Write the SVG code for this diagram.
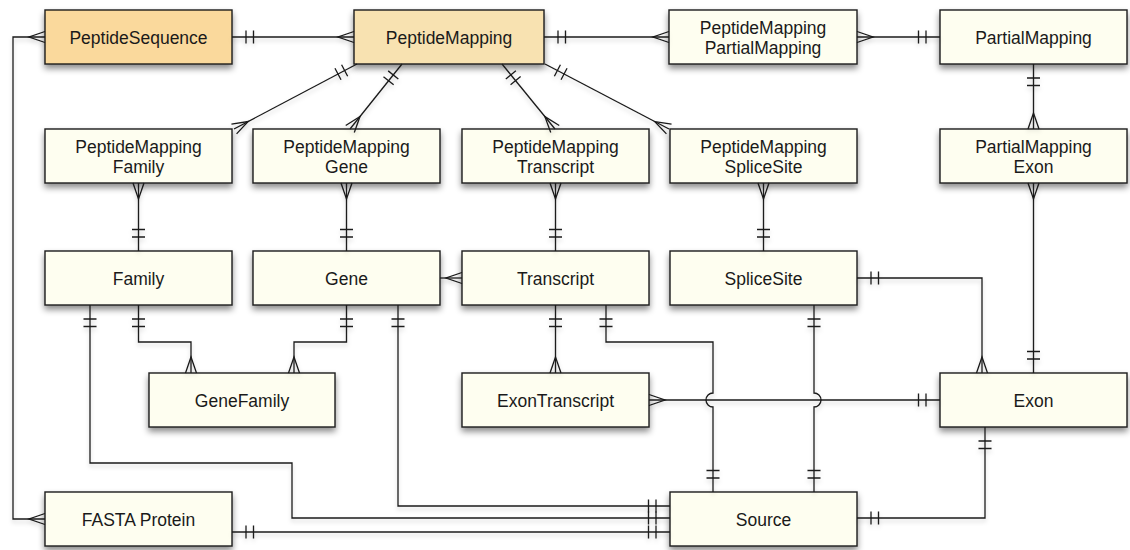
<svg xmlns="http://www.w3.org/2000/svg" width="1130" height="550" viewBox="0 0 1130 550">
<style>
.box{stroke:#1c1c1c;stroke-width:1.4;filter:url(#sh)}
.cream{fill:#fefef0}
.orange{fill:#fad99c}
.peach{fill:#f8e2b1}
text{font-family:"Liberation Sans",Arial,Helvetica,sans-serif;font-size:17.5px;fill:#1a1a1a;text-anchor:middle}
.c path{fill:none;stroke:#1a1a1a;stroke-width:1.3}
.o{marker-start:url(#one)}
.oe{marker-end:url(#one)}
.m{marker-start:url(#many)}
.me{marker-end:url(#many)}
</style>
<defs>
<filter id="sh" x="-10%" y="-20%" width="120%" height="160%">
<feDropShadow dx="0" dy="4" stdDeviation="3" flood-color="#000" flood-opacity="0.45"/>
</filter>
<filter id="lsh" x="-5%" y="-5%" width="110%" height="110%">
<feDropShadow dx="0" dy="3" stdDeviation="2" flood-color="#000" flood-opacity="0.18"/>
</filter>
<marker id="one" markerUnits="userSpaceOnUse" viewBox="-30 -10 32 20" markerWidth="32" markerHeight="20" refX="0" refY="0" orient="auto-start-reverse">
<path d="M-14,-6.5V6.5M-21.5,-6.5V6.5" fill="none" stroke="#1a1a1a" stroke-width="1.3"/>
</marker>
<marker id="many" markerUnits="userSpaceOnUse" viewBox="-30 -10 32 20" markerWidth="32" markerHeight="20" refX="0" refY="0" orient="auto-start-reverse">
<path d="M0,-5.5L-16,0L0,5.5" fill="none" stroke="#1a1a1a" stroke-width="1.3"/>
</marker>
</defs>

<g id="PeptideSequence"><rect class="box orange" x="45" y="10" width="187" height="54"/><text x="138.5" y="43.5">PeptideSequence</text></g>
<g id="PeptideMapping"><rect class="box peach" x="354" y="10" width="190" height="54"/><text x="449" y="43.5">PeptideMapping</text></g>
<g id="PeptideMappingPartialMapping"><rect class="box cream" x="669" y="10" width="188" height="54"/><text x="763" y="33.5">PeptideMapping</text><text x="763" y="54">PartialMapping</text></g>
<g id="PartialMapping"><rect class="box cream" x="940" y="10" width="187" height="54"/><text x="1033.5" y="43.5">PartialMapping</text></g>

<g id="PeptideMappingFamily"><rect class="box cream" x="45" y="129" width="187" height="54"/><text x="138.5" y="152.5">PeptideMapping</text><text x="138.5" y="173">Family</text></g>
<g id="PeptideMappingGene"><rect class="box cream" x="253" y="129" width="187" height="54"/><text x="346.5" y="152.5">PeptideMapping</text><text x="346.5" y="173">Gene</text></g>
<g id="PeptideMappingTranscript"><rect class="box cream" x="462" y="129" width="187" height="54"/><text x="555.5" y="152.5">PeptideMapping</text><text x="555.5" y="173">Transcript</text></g>
<g id="PeptideMappingSpliceSite"><rect class="box cream" x="670" y="129" width="187" height="54"/><text x="763.5" y="152.5">PeptideMapping</text><text x="763.5" y="173">SpliceSite</text></g>
<g id="PartialMappingExon"><rect class="box cream" x="940" y="129" width="187" height="54"/><text x="1033.5" y="152.5">PartialMapping</text><text x="1033.5" y="173">Exon</text></g>

<g id="Family"><rect class="box cream" x="45" y="251" width="187" height="54"/><text x="138.5" y="284.5">Family</text></g>
<g id="Gene"><rect class="box cream" x="253" y="251" width="187" height="54"/><text x="346.5" y="284.5">Gene</text></g>
<g id="Transcript"><rect class="box cream" x="462" y="251" width="187" height="54"/><text x="555.5" y="284.5">Transcript</text></g>
<g id="SpliceSite"><rect class="box cream" x="670" y="251" width="187" height="54"/><text x="763.5" y="284.5">SpliceSite</text></g>

<g id="GeneFamily"><rect class="box cream" x="149" y="373" width="186" height="54"/><text x="242" y="406.5">GeneFamily</text></g>
<g id="ExonTranscript"><rect class="box cream" x="462" y="373" width="187" height="54"/><text x="555.5" y="406.5">ExonTranscript</text></g>
<g id="Exon"><rect class="box cream" x="940" y="373" width="187" height="54"/><text x="1033.5" y="406.5">Exon</text></g>

<g id="FASTAProtein"><rect class="box cream" x="45" y="492" width="187" height="54"/><text x="138.5" y="525.5">FASTA Protein</text></g>
<g id="Source"><rect class="box cream" x="670" y="492" width="187" height="54"/><text x="763.5" y="525.5">Source</text></g>

<g id="connectors" class="c" filter="url(#lsh)">
<path class="o me" d="M232,37H354"/>
<path class="m me" d="M45,37H13V519H45"/>
<path class="o me" d="M544,37H669"/>
<path class="m oe" d="M857,37H940"/>
<path class="o me" d="M1033.5,64V129"/>
<path class="m oe" d="M1033.5,183V373"/>
<path class="o me" d="M357,64L234,129"/>
<path class="o me" d="M402,64L350,129"/>
<path class="o me" d="M502,64L555,129"/>
<path class="o me" d="M545,64L669,129"/>
<path class="m oe" d="M138.5,183V251"/>
<path class="m oe" d="M346.5,183V251"/>
<path class="m oe" d="M555.5,183V251"/>
<path class="m oe" d="M763.5,183V251"/>
<path class="me" d="M440,278H462"/>
<path class="o me" d="M138.5,305V342H191V373"/>
<path class="o me" d="M346.5,305V342H294V373"/>
<path class="o oe" d="M90,305V463H292V518H670"/>
<path class="o oe" d="M398,305V506H670"/>
<path class="o oe" d="M232,532H670"/>
<path class="o me" d="M555.5,305V373"/>
<path class="o oe" d="M606,305V342H713V393A7,7 0 0 0 713,407V492"/>
<path class="m oe" d="M649,400H940"/>
<path class="o me" d="M857,278H982V373"/>
<path class="o oe" d="M814,305V393A7,7 0 0 1 814,407V492"/>
<path class="o oe" d="M985,427V518H857"/>
</g>
</svg>
